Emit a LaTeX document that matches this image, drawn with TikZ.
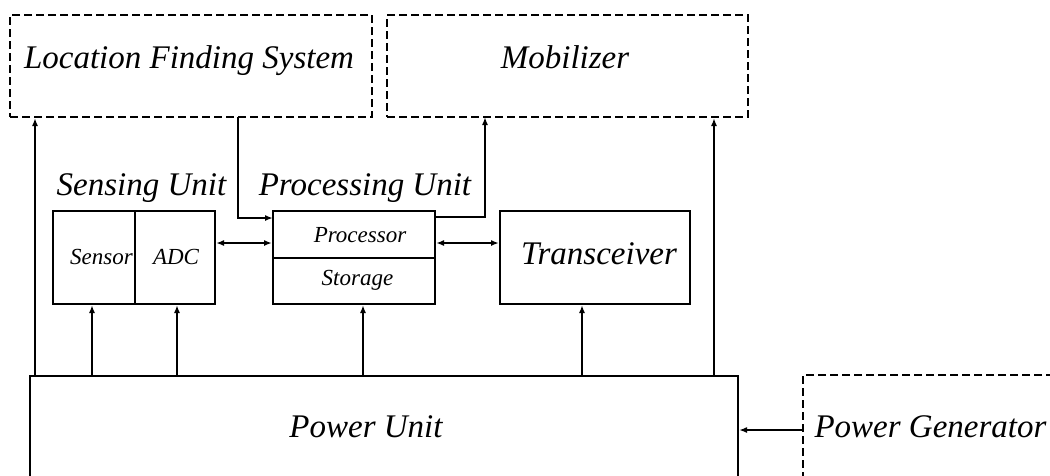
\documentclass[tikz,border=0pt]{standalone}
\usepackage{fontspec}
\setmainfont{Liberation Serif}
\usetikzlibrary{arrows.meta}
\begin{document}
\begin{tikzpicture}[x=1pt,y=-1pt,
  solidbox/.style={draw,line width=2pt,inner sep=0pt,rectangle},
  dashbox/.style={draw,line width=2pt,dash pattern=on 8pt off 4pt,inner sep=0pt,rectangle},
  bigtxt/.style={font=\fontsize{33}{36}\selectfont\itshape,inner sep=0pt,anchor=base},
  smalltxt/.style={font=\fontsize{23}{26}\selectfont\itshape,inner sep=0pt,anchor=base},
  conn/.style={line width=1.6pt,-{Latex[length=8pt,width=6pt]}},
  dconn/.style={line width=1.6pt,{Latex[length=8pt,width=6pt]}-{Latex[length=8pt,width=6pt]}}]
\useasboundingbox (0,0) rectangle (1050,475);
\clip (0,0) rectangle (1050,475);

% boxes
\node[dashbox,minimum width=362pt,minimum height=102pt] (lfs) at (191,66) {};
\node[dashbox,minimum width=361pt,minimum height=102pt] (mob) at (567.5,66) {};
\node[solidbox,minimum width=162pt,minimum height=93pt] (sens) at (134,257.5) {};
\node[solidbox,minimum width=162pt,minimum height=93pt] (proc) at (354,257.5) {};
\node[solidbox,minimum width=190pt,minimum height=93pt] (trx) at (595,257.5) {};
\node[solidbox,minimum width=708pt,minimum height=124pt] (power) at (384,438) {};
\node[dashbox,minimum width=297pt,minimum height=125pt] (pg) at (951.5,437.5) {};

% dividers
\draw[line width=2pt] ([xshift=1pt]sens.north) -- ([xshift=1pt]sens.south);
\draw[line width=2pt] (proc.west) -- (proc.east);

% texts
\node[bigtxt] (tlfs) at (189,68) {Location Finding System};
\node[bigtxt] (tmob) at (565,68) {Mobilizer};
\node[bigtxt] (tsens) at (141.5,195) {Sensing Unit};
\node[bigtxt] (tproc) at (365,195) {Processing Unit};
\node[smalltxt] (tprocessor) at (360,242) {Processor};
\node[smalltxt] (tstorage) at (357.5,285) {Storage};
\node[smalltxt] (tsensor) at (101.5,264) {Sensor};
\node[smalltxt] (tadc) at (176,264) {ADC};
\node[bigtxt] (ttrx) at (599,264) {Transceiver};
\node[bigtxt] (tpower) at (366,437) {Power Unit};
\node[bigtxt] (tpg) at (930.5,437) {Power Generator};

% helper coordinates
\coordinate (ya) at (0,243);
\coordinate (yg) at (0,430);
\coordinate (p1) at (35,376);
\coordinate (p2) at (92,376);
\coordinate (p3) at (177,376);
\coordinate (p4) at (363,376);
\coordinate (p5) at (582,376);
\coordinate (p6) at (714,376);
\coordinate (l1) at (238,117);
\coordinate (pin) at (273,218);
\coordinate (pout) at (435,217);
\coordinate (m1) at (485,117);

% connectors
\draw[conn] (p1) -- (p1 |- lfs.south);
\draw[conn] (p2) -- (p2 |- sens.south);
\draw[conn] (p3) -- (p3 |- sens.south);
\draw[conn] (p4) -- (p4 |- proc.south);
\draw[conn] (p5) -- (p5 |- trx.south);
\draw[conn] (p6) -- (p6 |- mob.south);
\draw[conn] (l1) |- (pin);
\draw[conn] (pout) -| (m1);
\draw[dconn] (sens.east |- ya) -- (proc.west |- ya);
\draw[dconn] (proc.east |- ya) -- (trx.west |- ya);
\draw[conn] (pg.west |- yg) -- (power.east |- yg);
\end{tikzpicture}
\end{document}
